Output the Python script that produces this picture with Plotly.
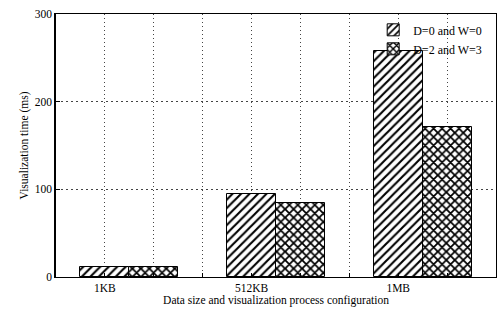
import plotly.graph_objects as go

categories = ["1KB", "512KB", "1MB"]
cat_pos = [1, 4, 7]
series_names = ["D=0 and W=0", "D=2 and W=3"]
series1 = [11, 95, 258]
series2 = [11, 84, 171]
y_ticks = [0, 100, 200, 300]

font = "Liberation Serif"
fig = go.Figure()
fig.add_trace(go.Bar(
    x=cat_pos, y=series1, name=series_names[0], width=1,
    marker=dict(color="white", line=dict(color="black", width=1),
                pattern=dict(shape="/", fgcolor="black", bgcolor="white", size=6, solidity=0.35, fgopacity=1)),
))
fig.add_trace(go.Bar(
    x=[p + 1 for p in cat_pos], y=series2, name=series_names[1], width=1,
    marker=dict(color="white", line=dict(color="black", width=1),
                pattern=dict(shape="x", fgcolor="black", bgcolor="white", size=6, solidity=0.5, fgopacity=1)),
))

tickvals = list(range(1, 9))
ticktext = [""] * 8
for c, p in zip(categories, cat_pos):
    ticktext[p - 1] = c

fig.update_layout(
    width=497, height=312,
    margin=dict(l=56, r=1, t=14, b=35, autoexpand=False),
    paper_bgcolor="white", plot_bgcolor="white",
    font=dict(family=font, size=11.5, color="black"),
    showlegend=True,
    legend=dict(x=0.98, y=0.995, xanchor="right", yanchor="top",
                bgcolor="rgba(0,0,0,0)", font=dict(size=12),
                itemwidth=30, tracegroupgap=0),
    barmode="overlay",
    bargap=0,
)
fig.update_xaxes(
    range=[0, 9], tickvals=tickvals, ticktext=ticktext,
    showgrid=True, gridcolor="#444", griddash="1px,3px", gridwidth=1,
    showline=True, linecolor="black", linewidth=1, mirror=True,
    ticks="inside", ticklen=4, tickcolor="black",
    title=dict(text="Data size and visualization process configuration", standoff=3, font=dict(size=11.5)),
    zeroline=False, automargin=False,
)
fig.update_yaxes(
    range=[0, 300], tickvals=y_ticks,
    showgrid=True, gridcolor="#444", griddash="2px,3px", gridwidth=1,
    showline=True, linecolor="black", linewidth=1.5, mirror=True,
    ticks="inside", ticklen=4, tickcolor="black",
    title=dict(text="Visualization time (ms)", standoff=4, font=dict(size=11.5)),
    zeroline=False, automargin=False,
)
fig.write_html("out.html", config={"displayModeBar": False},
               post_script="document.body.style.margin='0';")
